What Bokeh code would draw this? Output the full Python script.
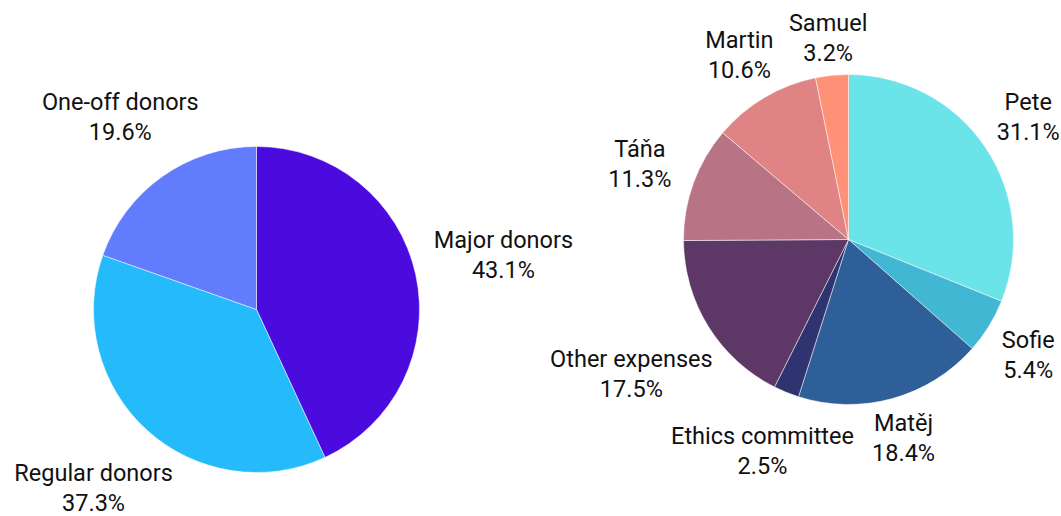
import math
from bokeh.plotting import figure
from bokeh.models import Range1d, ColumnDataSource
from bokeh.core.properties import value
from bokeh.embed import file_html
from bokeh.resources import INLINE

# ---- data ----
income_labels = ["Major donors", "Regular donors", "One-off donors"]
income_values = [43.1, 37.3, 19.6]
income_colors = ["#4B0ADE", "#25BBFA", "#617CFC"]

expense_labels = ["Pete", "Sofie", "Matěj", "Ethics committee", "Other expenses",
                  "Táňa", "Martin", "Samuel"]
expense_values = [31.1, 5.4, 18.4, 2.5, 17.5, 11.3, 10.6, 3.2]
expense_colors = ["#6AE4E8", "#42B7D4", "#2F5F98", "#2F336F", "#5D3766",
                  "#B87385", "#E08385", "#FF9176"]

# ---- layout (data space = screen pixels, y measured upward from window bottom) ----
W, H = 1061, 516
FONT = "Roboto"
FSIZE = "23.5px"
CHAR_W = 11.7
LINE_GAP = 15
RIGHT_LIMIT = 1057
BOTTOM_LIMIT = 2

p = figure(width=W, height=H, output_backend="svg", toolbar_location=None,
           x_range=Range1d(0, W), y_range=Range1d(0, H), min_border=0)
p.axis.visible = False
p.grid.visible = False
p.outline_line_color = None
p.background_fill_color = "white"
p.border_fill_color = "white"


def draw_pie(cx_screen, cy_screen, r, labels, values, colors):
    cx, cy = cx_screen, H - cy_screen
    total = sum(values)
    starts, ends, mids = [], [], []
    acc = 0.0
    for v in values:
        a0 = acc / total
        acc += v
        a1 = acc / total
        starts.append(math.pi / 2 - 2 * math.pi * a0)
        ends.append(math.pi / 2 - 2 * math.pi * a1)
        mids.append(2 * math.pi * (a0 + a1) / 2)  # clockwise from top
    src = ColumnDataSource(dict(x=[cx] * len(values), y=[cy] * len(values),
                                start=starts, end=ends, color=colors))
    p.wedge(x="x", y="y", radius=r, start_angle="start", end_angle="end",
            direction="clock", fill_color="color", line_color="white",
            line_width=0.5, source=src)

    lx, ly, n1, n2 = [], [], [], []
    for lab, v, th in zip(labels, values, mids):
        pct = f"{v:.1f}%"
        w = max(len(lab), len(pct)) * CHAR_W
        s, c = math.sin(th), math.cos(th)
        dist = r + 35 + 0.4 * w * abs(s)
        x = cx + dist * s
        y = cy + dist * c
        if x + w / 2 > RIGHT_LIMIT:
            x = RIGHT_LIMIT - w / 2
        if y - LINE_GAP - 12 < BOTTOM_LIMIT:
            y = BOTTOM_LIMIT + LINE_GAP + 12
        lx.append(x)
        ly.append(y)
        n1.append(lab)
        n2.append(pct)
    tsrc = ColumnDataSource(dict(x=lx, y1=[y + LINE_GAP for y in ly],
                                 y2=[y - LINE_GAP for y in ly], t1=n1, t2=n2))
    for yk, tk in (("y1", "t1"), ("y2", "t2")):
        p.text(x="x", y=yk, text=tk, source=tsrc, text_align="center",
               text_baseline="middle", text_font=value(FONT),
               text_font_size=FSIZE, text_color="#111111")


draw_pie(256, 309, 163, income_labels, income_values, income_colors)
draw_pie(848, 239, 165, expense_labels, expense_values, expense_colors)

open("out.html", "w").write(file_html(p, INLINE))
